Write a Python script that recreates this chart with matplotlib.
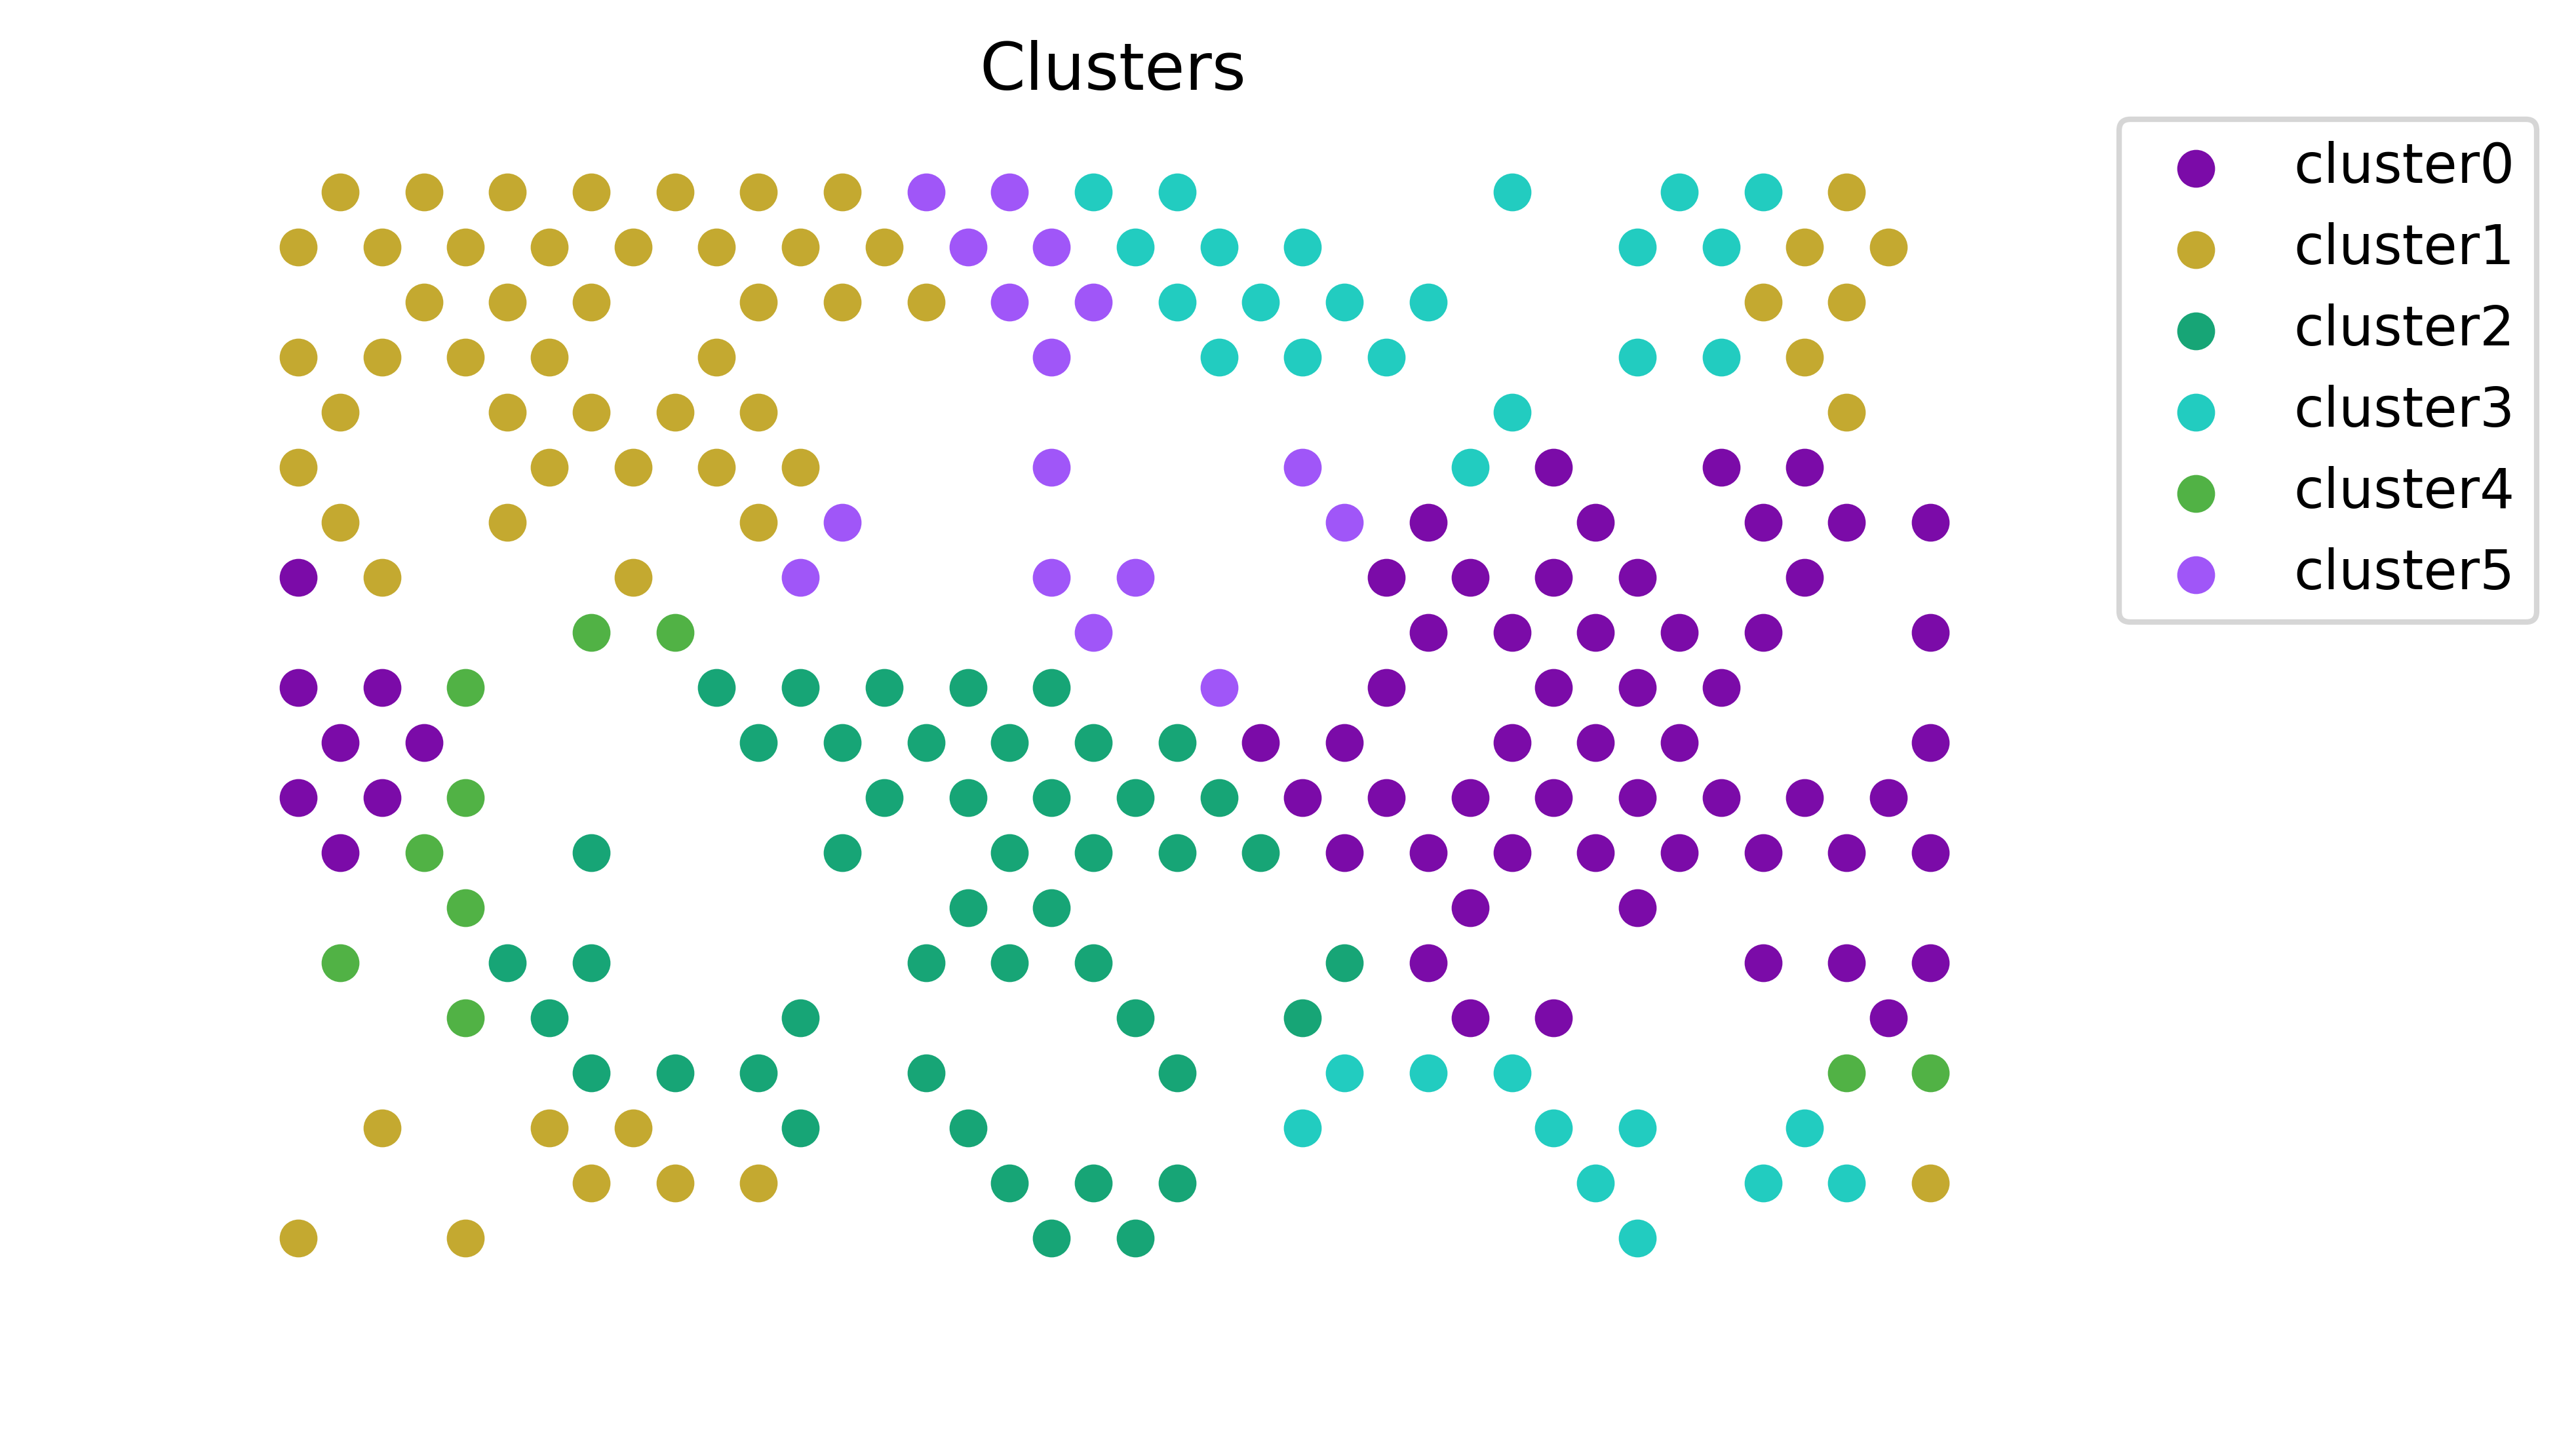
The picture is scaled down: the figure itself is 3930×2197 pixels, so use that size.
import matplotlib
matplotlib.use("Agg")
import matplotlib.pyplot as plt

# Hex-grid spot positions (column index, row index) per cluster
cluster_names = ["cluster0", "cluster1", "cluster2", "cluster3", "cluster4", "cluster5"]
cluster_colors = ["#7b0ba8", "#c4a930", "#17a576", "#22ccc0", "#51b245", "#a056f8"]

cluster0_rows = {
    5: [30, 34, 36],
    6: [27, 31, 35, 37, 39],
    7: [0, 26, 28, 30, 32, 36],
    8: [27, 29, 31, 33, 35, 39],
    9: [0, 2, 26, 30, 32, 34],
    10: [1, 3, 23, 25, 29, 31, 33, 39],
    11: [0, 2, 24, 26, 28, 30, 32, 34, 36, 38],
    12: [1, 25, 27, 29, 31, 33, 35, 37, 39],
    13: [28, 32],
    14: [27, 35, 37, 39],
    15: [28, 30, 38],
}
cluster1_rows = {
    0: [1, 3, 5, 7, 9, 11, 13, 37],
    1: [0, 2, 4, 6, 8, 10, 12, 14, 36, 38],
    2: [3, 5, 7, 11, 13, 15, 35, 37],
    3: [0, 2, 4, 6, 10, 36],
    4: [1, 5, 7, 9, 11, 37],
    5: [0, 6, 8, 10, 12],
    6: [1, 5, 11],
    7: [2, 8],
    17: [2, 6, 8],
    18: [7, 9, 11, 39],
    19: [0, 4],
}
cluster2_rows = {
    9: [10, 12, 14, 16, 18],
    10: [11, 13, 15, 17, 19, 21],
    11: [14, 16, 18, 20, 22],
    12: [7, 13, 17, 19, 21, 23],
    13: [16, 18],
    14: [5, 7, 15, 17, 19, 25],
    15: [6, 12, 20, 24],
    16: [7, 9, 11, 15, 21],
    17: [12, 16],
    18: [17, 19, 21],
    19: [18, 20],
}
cluster3_rows = {
    0: [19, 21, 29, 33, 35],
    1: [20, 22, 24, 32, 34],
    2: [21, 23, 25, 27],
    3: [22, 24, 26, 32, 34],
    4: [29],
    5: [28],
    16: [25, 27, 29],
    17: [24, 30, 32, 36],
    18: [31, 35, 37],
    19: [32],
}
cluster4_rows = {
    8: [7, 9],
    9: [4],
    11: [4],
    12: [3],
    13: [4],
    14: [1],
    15: [4],
    16: [37, 39],
}
cluster5_rows = {
    0: [15, 17],
    1: [16, 18],
    2: [17, 19],
    3: [18],
    5: [18, 24],
    6: [13, 25],
    7: [12, 18, 20],
    8: [19],
    9: [22],
}
all_clusters = [cluster0_rows, cluster1_rows, cluster2_rows,
                cluster3_rows, cluster4_rows, cluster5_rows]

W, H = 3930, 2197
DPI = 600
fig = plt.figure(figsize=(W / DPI, H / DPI), dpi=DPI)
ax = fig.add_axes([330 / W, 1 - 2137 / H, (3066 - 330) / W, (2137 - 187) / H])

for name, color, rows in zip(cluster_names, cluster_colors, all_clusters):
    xs, ys = [], []
    for r, cols in rows.items():
        for c in cols:
            xs.append(c)
            ys.append(r)
    ax.scatter(xs, ys, s=48, c=color, label=name, linewidths=0)

ax.set_xlim(-1.958, 40.895)
ax.set_ylim(21.95, -1.265)
ax.axis("off")
ax.set_title("Clusters", fontsize=12)

fig.legend(loc="upper left", bbox_to_anchor=(3233 / W, 1 - 182 / H),
           bbox_transform=fig.transFigure, borderaxespad=0, fontsize=10,
           labelspacing=0.515)

fig.savefig("out.png", dpi=DPI)
